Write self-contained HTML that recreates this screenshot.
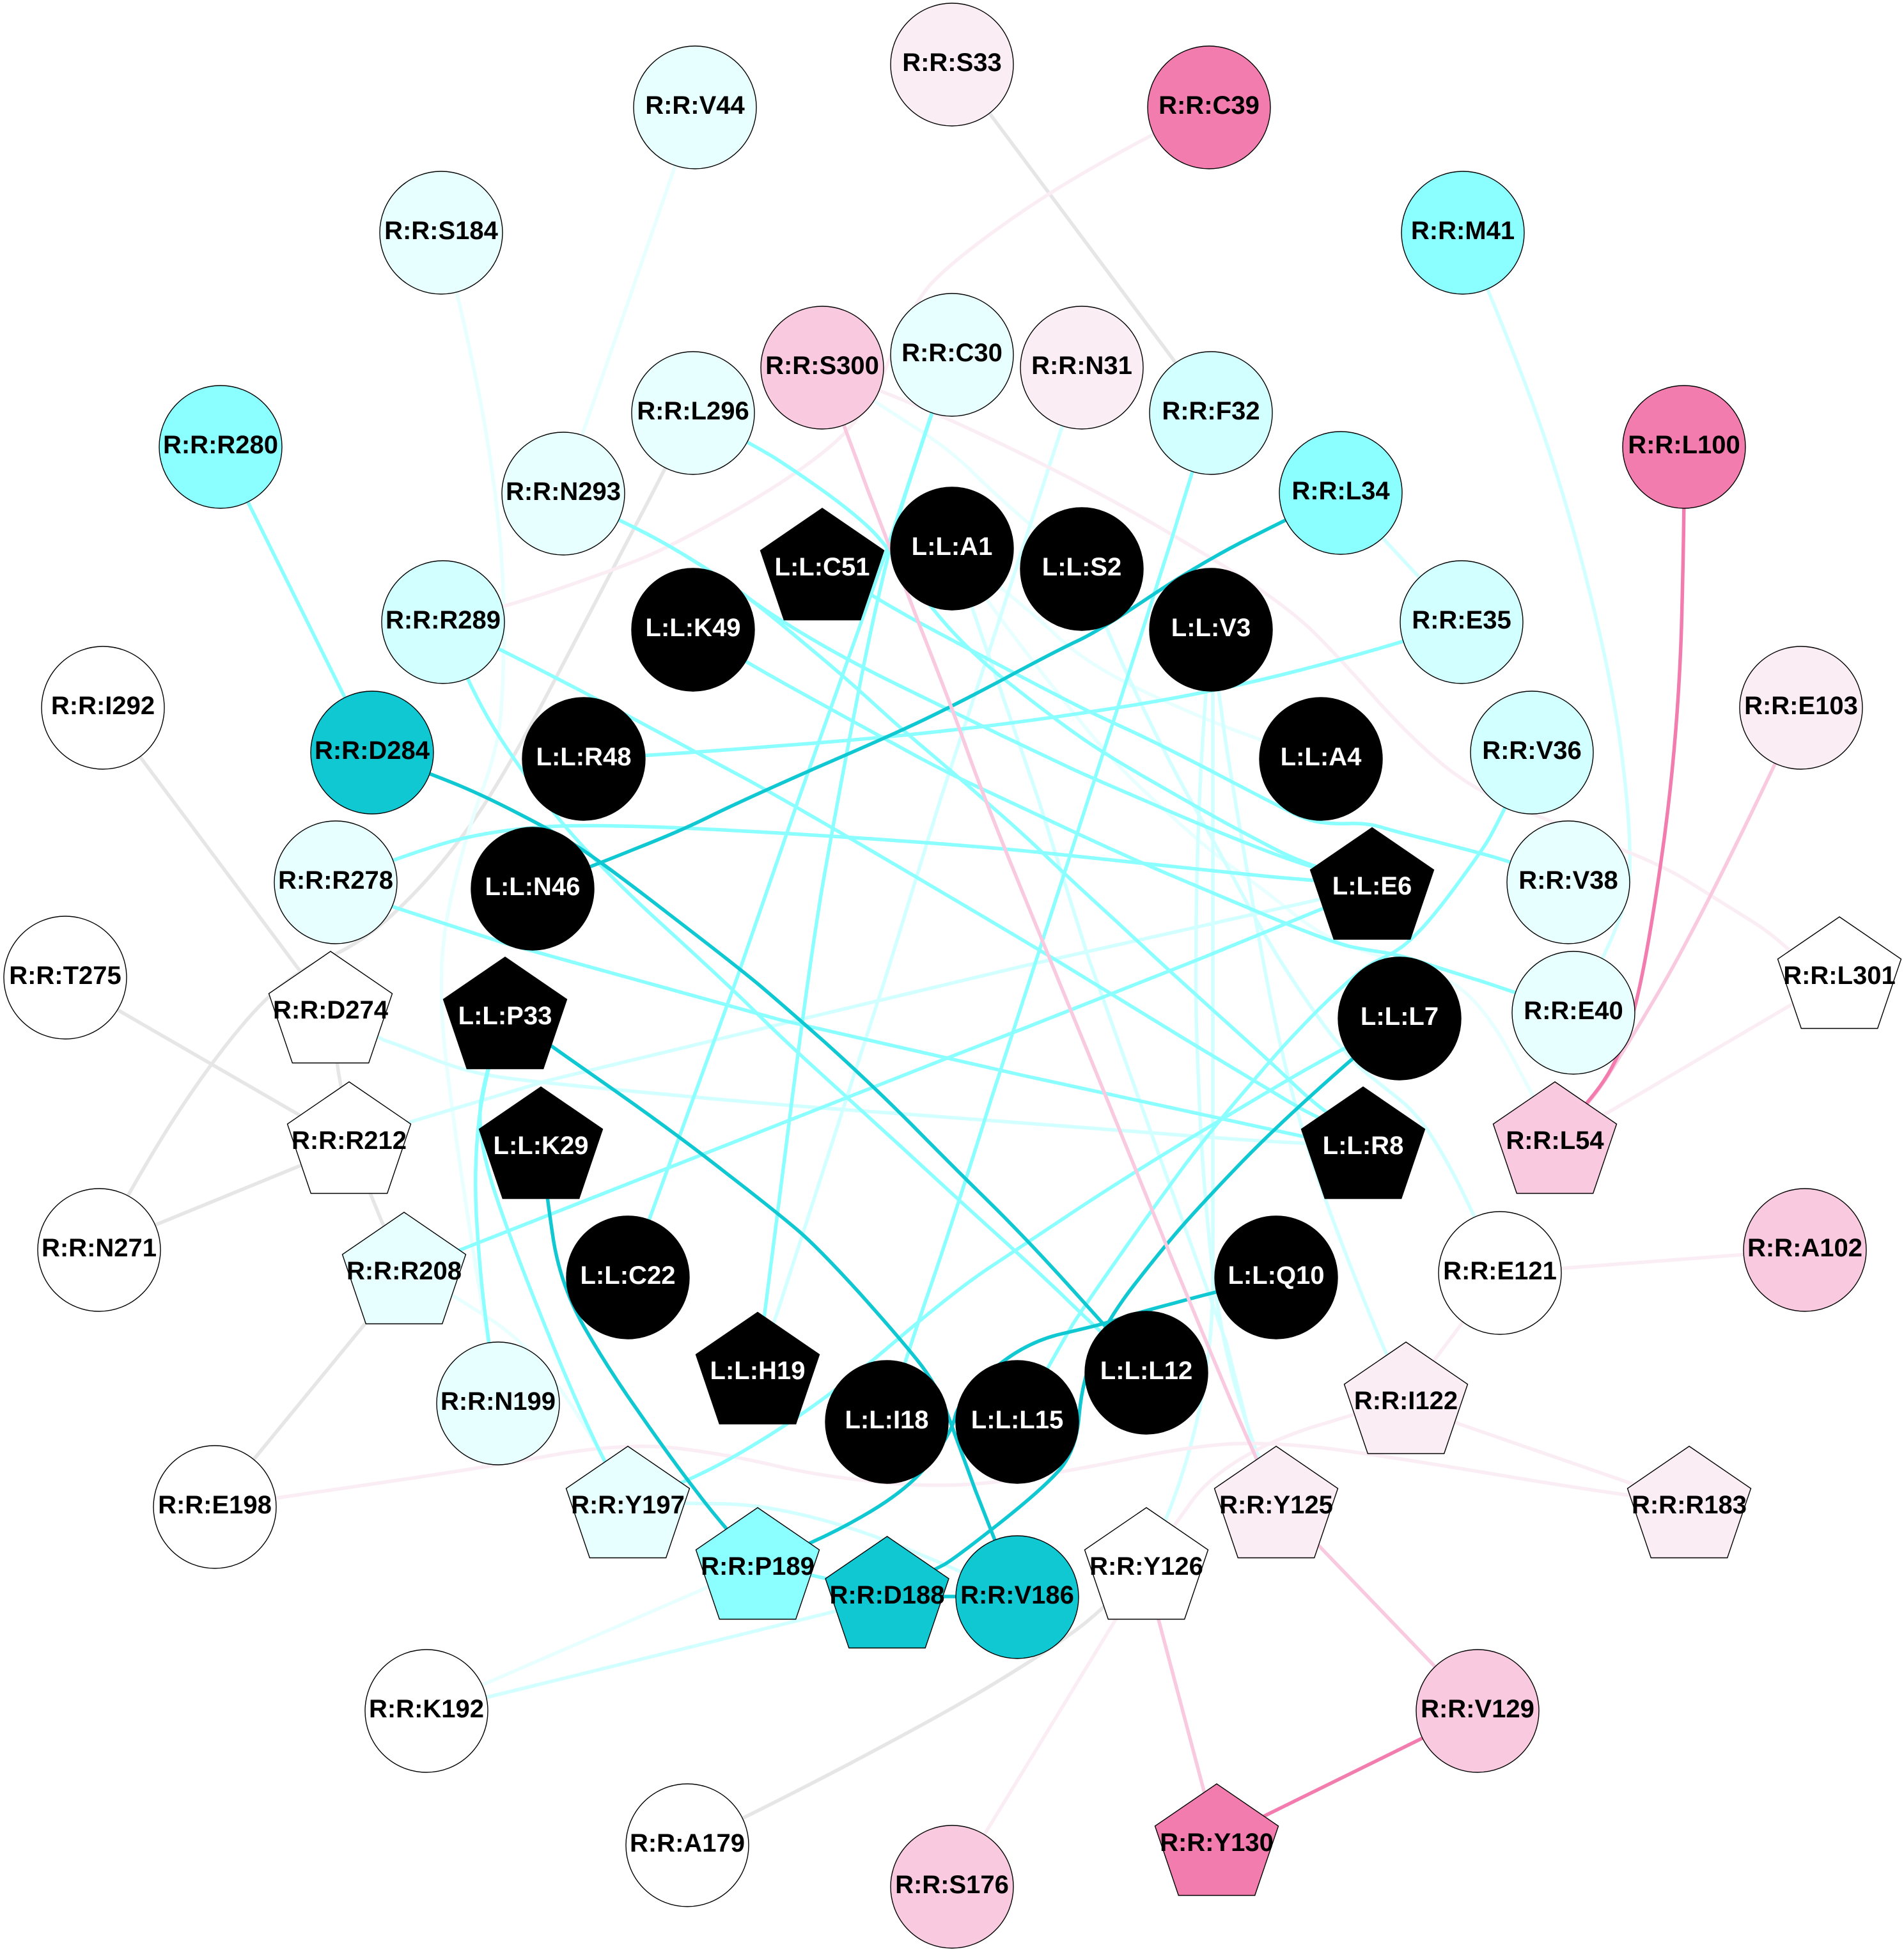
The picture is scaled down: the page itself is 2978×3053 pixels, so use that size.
<!DOCTYPE html>
<html><head><meta charset="utf-8"><style>
html,body{margin:0;padding:0;background:#fff}
svg{display:block}
text{font-family:"Liberation Sans",Arial,sans-serif;font-weight:bold;font-size:40px;text-anchor:middle;fill:#000}
.w{fill:#fff}
polyline,path{fill:none;stroke-width:5.5;stroke-linejoin:round;stroke-linecap:butt}
circle,polygon{stroke:#000;stroke-width:1.4}
</style></head><body>
<svg xmlns="http://www.w3.org/2000/svg" width="2978" height="3053" viewBox="0 0 2978 3053">
<rect width="2978" height="3053" fill="#fff"/>
<g stroke="#E6E6E6">
<polyline points="1489,100 1546,175 1840,569 1894,646"/>
<polyline points="161,1106 220,1185 465,1513 516,1575"/>
<polyline points="102,1529 185,1580 470,1745 546,1778"/>
<polyline points="155,1955 245,1915 470,1823 546,1790"/>
<path d="M155,1955 Q199,1867 263,1764 Q328,1662 387,1594 Q446,1526 508,1500 Q570,1474 627,1418 Q684,1363 736,1290 Q788,1217 869,1061 Q950,905 995,820 Q1040,735 1083,646"/>
<path d="M516,1575 Q527,1662 530,1681 Q534,1701 540,1740 Q546,1778 562,1822 Q579,1867 590,1893 Q600,1920 632,1982"/>
<polyline points="632,1982 572,2069 399,2280 336,2357"/>
<path d="M1075,2885 Q1163,2845 1326,2760 Q1489,2674 1560,2630 Q1631,2587 1678,2553 Q1726,2519 1793,2445"/>
</g>
<g stroke="#E8FFFF">
<polyline points="1087,168 1054,265 912,676 881,772"/>
<path d="M690,364 Q717,462 738,562 Q760,662 774,769 Q788,876 788,973 Q788,1071 783,1120 Q779,1168 755,1234 Q731,1300 712,1376 Q693,1453 691,1510 Q689,1568 694,1625 Q700,1683 715,1791 Q731,1900 747,2000 Q764,2100 779,2195"/>
<path d="M1286,575 Q1402,650 1446,678 Q1490,707 1528,745 Q1567,784 1692,890"/>
<path d="M1489,858 Q1615,958 1646,988 Q1677,1019 1724,1047 Q1772,1076 1871,1118 Q1971,1160 2066,1187"/>
<path d="M1489,858 Q1544,941 1597,1010 Q1650,1079 1697,1137 Q1745,1195 1780,1228 Q1814,1260 1854,1296 Q1895,1333 1930,1358 Q1964,1382 2012,1420 Q2059,1459 2098,1475 Q2136,1490 2202,1508 Q2267,1527 2300,1560 Q2333,1593 2365,1653 Q2397,1713 2432,1778"/>
<polyline points="667,2676 755,2635 1092,2489 1185,2445"/>
<path d="M632,1982 Q712,2027 774,2068 Q836,2110 893,2197 Q950,2285 982,2350"/>
</g>
<g stroke="#D2FFFF">
<polyline points="546,1778 641,1755 857,1690 1220,1602 1600,1511 2063,1407 2146,1382"/>
<path d="M517,1575 Q589,1623 604,1628 Q620,1633 677,1656 Q735,1679 792,1686 Q850,1694 1035,1711 Q1220,1729 1410,1742 Q1600,1756 1818,1773 Q2036,1791 2132,1790"/>
<polyline points="1692,575 1660,671 1546,1022 1471,1250 1386,1526 1216,2052 1185,2140"/>
<polyline points="1489,858 1521,952 1624,1250 1703,1500 1918,2100 1964,2280 1996,2348"/>
<path d="M1692,890 Q1730,984 1774,1078 Q1818,1172 1858,1244 Q1899,1317 1933,1380 Q1967,1444 1999,1497 Q2032,1550 2072,1605 Q2113,1660 2143,1683 Q2173,1707 2193,1723 Q2213,1740 2233,1768 Q2253,1797 2280,1849 Q2306,1901 2346,1991"/>
<path d="M1894,985 Q1906,1084 1917,1160 Q1929,1237 1956,1393 Q1983,1550 2004,1640 Q2025,1730 2048,1802 Q2071,1875 2115,1987 Q2159,2100 2199,2186"/>
<path d="M1894,985 L1897,1088 L1897,2000 Q1897,2230 1793,2445"/>
<path d="M1894,985 Q1885,1088 1878,1210 Q1872,1333 1871,1441 Q1870,1550 1871,1592 Q1872,1634 1877,1749 Q1883,1864 1895,1972 Q1907,2081 1935,2178 Q1964,2275 1996,2348"/>
<path d="M2288,364 Q2329,453 2384,596 Q2439,740 2481,905 Q2524,1071 2538,1192 Q2553,1314 2548,1377 Q2543,1440 2461,1584"/>
<polyline points="2097,771 2285,973"/>
<path d="M982,2350 Q1073,2351 1130,2352 Q1187,2353 1258,2370 Q1330,2387 1410,2419 Q1489,2451 1591,2498"/>
<polyline points="667,2676 760,2655 1311,2519 1387,2490"/>
</g>
<g stroke="#FBEDF4">
<path d="M693,973 Q793,949 871,922 Q950,895 1000,875 Q1050,855 1147,800 Q1245,744 1300,697 Q1356,650 1390,565 Q1424,480 1456,444 Q1489,409 1563,356 Q1638,302 1720,256 Q1802,209 1890,168"/>
<path d="M1286,575 Q1382,613 1435,635 Q1489,657 1584,703 Q1679,749 1774,802 Q1869,856 1945,905 Q2021,954 2063,997 Q2106,1041 2158,1100 Q2211,1158 2258,1197 Q2306,1236 2372,1263 Q2439,1290 2520,1322 Q2600,1353 2638,1377 Q2676,1401 2742,1442 Q2809,1484 2877,1575"/>
<polyline points="2877,1575 2804,1570 2515,1740 2432,1778"/>
<polyline points="2346,1991 2823,1955"/>
<polyline points="2346,1991 2199,2186"/>
<polyline points="2199,2186 2282,2227 2548,2319 2642,2348"/>
<path d="M336,2357 Q432,2343 596,2319 Q760,2295 869,2275 Q978,2256 1059,2265 Q1140,2275 1211,2292 Q1282,2309 1385,2319 Q1489,2329 1584,2314 Q1679,2300 1774,2280 Q1869,2261 1930,2258 Q1992,2256 2073,2265 Q2154,2275 2351,2308 Q2548,2341 2642,2350"/>
<path d="M2199,2186 Q2120,2212 2056,2231 Q1992,2251 1940,2282 Q1888,2314 1864,2348 Q1840,2382 1793,2445"/>
<polyline points="1793,2445 1745,2533 1546,2859 1489,2951"/>
</g>
<g stroke="#8BFFFF">
<polyline points="345,699 582,1177"/>
<path d="M1084,646 Q1170,691 1210,715 Q1249,740 1295,773 Q1341,807 1364,830 Q1387,853 1442,930 Q1498,1006 1574,1065 Q1650,1125 1686,1150 Q1722,1176 1795,1218 Q1868,1260 1906,1281 Q1944,1302 1996,1329 Q2048,1356 2146,1382"/>
<path d="M881,772 Q969,813 1010,834 Q1050,855 1088,879 Q1127,903 1165,931 Q1203,960 1264,996 Q1326,1033 1404,1071 Q1482,1109 1566,1150 Q1650,1190 1680,1204 Q1711,1218 1795,1254 Q1879,1291 1963,1324 Q2048,1358 2146,1382"/>
<path d="M881,772 Q969,813 1010,834 Q1050,855 1088,879 Q1127,903 1165,931 Q1203,960 1260,1008 Q1318,1056 1366,1100 Q1414,1144 1462,1184 Q1509,1224 1554,1264 Q1600,1304 1632,1335 Q1665,1367 1746,1441 Q1826,1516 1904,1586 Q1983,1657 2027,1699 Q2071,1741 2132,1778"/>
<path d="M1286,882 Q1364,933 1431,970 Q1498,1006 1574,1046 Q1650,1086 1678,1100 Q1707,1115 1764,1141 Q1822,1168 1910,1214 Q1998,1260 2021,1271 Q2044,1283 2065,1286 Q2086,1289 2111,1288 Q2136,1287 2158,1293 Q2180,1300 2245,1316 Q2310,1333 2335,1340 Q2360,1347 2453,1380"/>
<path d="M1084,985 Q1169,1037 1234,1073 Q1299,1109 1341,1132 Q1383,1155 1436,1184 Q1490,1213 1545,1238 Q1600,1264 1690,1306 Q1780,1348 1872,1386 Q1964,1425 2025,1450 Q2086,1474 2110,1480 Q2133,1485 2160,1489 Q2187,1493 2224,1505 Q2260,1517 2315,1534 Q2370,1552 2461,1584"/>
<path d="M693,973 Q788,1017 940,1097 Q1092,1178 1159,1214 Q1226,1250 1413,1360 Q1600,1470 1667,1511 Q1734,1552 1858,1628 Q1983,1703 2021,1726 Q2059,1749 2132,1778"/>
<path d="M693,973 Q731,1066 760,1117 Q788,1168 850,1250 Q912,1333 1028,1439 Q1144,1545 1182,1583 Q1220,1621 1275,1671 Q1330,1721 1410,1794 Q1489,1867 1544,1917 Q1600,1967 1660,2024 Q1719,2082 1793,2147"/>
<path d="M525,1380 Q617,1343 688,1321 Q760,1299 855,1293 Q950,1287 1220,1303 Q1489,1319 1634,1334 Q1780,1350 1918,1364 Q2055,1379 2146,1382"/>
<polyline points="525,1380 617,1419 792,1476 1220,1595 1600,1682 2036,1777 2132,1790"/>
<path d="M2286,973 Q2200,1004 2053,1043 Q1906,1082 1753,1106 Q1600,1130 1487,1142 Q1375,1155 1212,1167 Q1050,1180 913,1187"/>
<path d="M1894,646 Q1864,740 1832,845 Q1799,950 1755,1086 Q1711,1222 1662,1374 Q1612,1526 1550,1720 Q1489,1915 1452,2022 Q1415,2129 1387,2224"/>
<polyline points="1489,555 1456,650 1387,860 1249,1250 1154,1526 1016,1906 982,1998"/>
<path d="M1489,555 Q1456,650 1422,755 Q1387,860 1348,1055 Q1310,1250 1286,1388 Q1263,1526 1230,1789 Q1197,2052 1185,2140"/>
<path d="M2396,1177 Q2337,1300 2325,1318 Q2313,1337 2280,1382 Q2247,1427 2224,1452 Q2200,1477 2188,1484 Q2177,1492 2155,1502 Q2133,1513 2100,1543 Q2067,1573 2034,1608 Q2000,1643 1954,1698 Q1906,1753 1854,1821 Q1803,1890 1750,1966 Q1696,2043 1678,2071 Q1661,2100 1591,2224"/>
<path d="M2189,1593 Q2105,1638 2044,1672 Q1983,1707 1882,1768 Q1780,1829 1690,1888 Q1600,1948 1544,1985 Q1489,2022 1386,2110 Q1282,2198 1182,2258 Q1083,2319 982,2350"/>
<polyline points="632,1982 722,1954 1489,1652 1600,1609 1876,1500 2069,1421 2146,1382"/>
<path d="M790,1584 Q760,1672 752,1725 Q745,1779 776,1871 Q807,1964 873,2124 Q940,2285 982,2350"/>
<path d="M790,1584 Q760,1672 750,1745 Q741,1818 745,1900 Q750,1983 757,2041 Q764,2100 779,2195"/>
<polyline points="1185,2445 1387,2490"/>
</g>
<g stroke="#10C8D2">
<path d="M2097,771 Q2011,813 1940,849 Q1869,886 1793,937 Q1717,988 1684,1003 Q1650,1019 1570,1062 Q1489,1105 1436,1130 Q1383,1155 1274,1202 Q1165,1250 1114,1275 Q1064,1300 995,1327 Q926,1355 833,1390"/>
<path d="M582,1177 Q674,1210 717,1228 Q760,1246 812,1273 Q865,1300 903,1324 Q941,1348 1048,1431 Q1156,1514 1188,1541 Q1220,1568 1289,1629 Q1358,1691 1424,1757 Q1489,1823 1544,1877 Q1600,1932 1661,1999 Q1722,2066 1793,2147"/>
<path d="M790,1584 Q863,1637 962,1706 Q1060,1775 1140,1838 Q1220,1900 1251,1927 Q1282,1954 1344,2022 Q1405,2090 1436,2129 Q1467,2168 1482,2212 Q1498,2256 1526,2332 Q1555,2407 1591,2498"/>
<path d="M1996,1998 Q1902,2020 1837,2038 Q1772,2055 1747,2064 Q1722,2072 1661,2086 Q1600,2100 1550,2145 Q1500,2190 1494,2215 Q1489,2240 1456,2284 Q1424,2329 1348,2372 Q1272,2416 1185,2445"/>
<path d="M2189,1593 Q2113,1657 2048,1716 Q1983,1775 1935,1825 Q1887,1875 1854,1912 Q1822,1948 1776,2007 Q1730,2066 1712,2112 Q1693,2158 1688,2212 Q1684,2266 1658,2298 Q1631,2329 1560,2385 Q1489,2441 1475,2448 Q1462,2455 1387,2490"/>
<path d="M846,1786 Q855,1871 866,1942 Q878,2013 914,2076 Q950,2139 998,2207 Q1045,2275 1088,2331 Q1130,2387 1185,2445"/>
<polyline points="1387,2497 1591,2497"/>
</g>
<g stroke="#F9C9DF">
<path d="M2817,1107 Q2776,1197 2726,1299 Q2676,1401 2643,1463 Q2610,1526 2581,1574 Q2552,1623 2519,1676 Q2486,1730 2432,1778"/>
<path d="M1286,575 Q1326,681 1356,763 Q1387,845 1438,977 Q1490,1109 1515,1180 Q1540,1250 1591,1375 Q1642,1500 1709,1664 Q1776,1829 1831,1964 Q1887,2100 1925,2190 Q1964,2280 1996,2348"/>
<polyline points="1996,2348 2311,2676"/>
<polyline points="1793,2445 1812,2533 1883,2801 1903,2877"/>
</g>
<g stroke="#F27CAE">
<path d="M2634,699 Q2635,793 2630,980 Q2624,1168 2598,1347 Q2572,1526 2553,1589 Q2534,1652 2510,1688 Q2486,1725 2432,1778"/>
<polyline points="2311,2676 1903,2877"/>
</g>

<circle cx="1489" cy="101" r="96" fill="#FBEDF4"/><text x="1489" y="111">R:R:S33</text>
<circle cx="1087" cy="168" r="96" fill="#E8FFFF"/><text x="1087" y="178">R:R:V44</text>
<circle cx="1891" cy="168" r="96" fill="#F27CAE"/><text x="1891" y="178">R:R:C39</text>
<circle cx="690" cy="364" r="96" fill="#E8FFFF"/><text x="690" y="374">R:R:S184</text>
<circle cx="2288" cy="364" r="96" fill="#8BFFFF"/><text x="2288" y="374">R:R:M41</text>
<circle cx="345" cy="699" r="96" fill="#8BFFFF"/><text x="345" y="709">R:R:R280</text>
<circle cx="2634" cy="699" r="96" fill="#F27CAE"/><text x="2634" y="709">R:R:L100</text>
<circle cx="881" cy="772" r="96" fill="#E8FFFF"/><text x="881" y="782">R:R:N293</text>
<circle cx="2097" cy="771" r="96" fill="#8BFFFF"/><text x="2097" y="781">R:R:L34</text>
<circle cx="1084" cy="646" r="96" fill="#E8FFFF"/><text x="1084" y="656">R:R:L296</text>
<circle cx="1894" cy="646" r="96" fill="#D2FFFF"/><text x="1894" y="656">R:R:F32</text>
<circle cx="1286" cy="575" r="96" fill="#F9C9DF"/><text x="1286" y="585">R:R:S300</text>
<circle cx="1692" cy="575" r="96" fill="#FBEDF4"/><text x="1692" y="585">R:R:N31</text>
<circle cx="1489" cy="555" r="96" fill="#E8FFFF"/><text x="1489" y="565">R:R:C30</text>
<circle cx="693" cy="973" r="96" fill="#D2FFFF"/><text x="693" y="983">R:R:R289</text>
<circle cx="2286" cy="973" r="96" fill="#D2FFFF"/><text x="2286" y="983">R:R:E35</text>
<circle cx="161" cy="1107" r="96" fill="#fff"/><text x="161" y="1117">R:R:I292</text>
<circle cx="2817" cy="1107" r="96" fill="#FBEDF4"/><text x="2817" y="1117">R:R:E103</text>
<circle cx="582" cy="1177" r="96" fill="#10C8D2"/><text x="582" y="1187">R:R:D284</text>
<circle cx="2396" cy="1177" r="96" fill="#D2FFFF"/><text x="2396" y="1187">R:R:V36</text>
<circle cx="525" cy="1380" r="96" fill="#E8FFFF"/><text x="525" y="1390">R:R:R278</text>
<circle cx="2453" cy="1380" r="96" fill="#E8FFFF"/><text x="2453" y="1390">R:R:V38</text>
<circle cx="102" cy="1529" r="96" fill="#fff"/><text x="102" y="1539">R:R:T275</text>
<circle cx="2461" cy="1584" r="96" fill="#E8FFFF"/><text x="2461" y="1594">R:R:E40</text>
<circle cx="155" cy="1955" r="96" fill="#fff"/><text x="155" y="1965">R:R:N271</text>
<circle cx="2823" cy="1955" r="96" fill="#F9C9DF"/><text x="2823" y="1965">R:R:A102</text>
<circle cx="2346" cy="1991" r="96" fill="#fff"/><text x="2346" y="2001">R:R:E121</text>
<circle cx="779" cy="2195" r="96" fill="#E8FFFF"/><text x="779" y="2205">R:R:N199</text>
<circle cx="336" cy="2357" r="96" fill="#fff"/><text x="336" y="2367">R:R:E198</text>
<circle cx="667" cy="2676" r="96" fill="#fff"/><text x="667" y="2686">R:R:K192</text>
<circle cx="2311" cy="2676" r="96" fill="#F9C9DF"/><text x="2311" y="2686">R:R:V129</text>
<circle cx="1075" cy="2886" r="96" fill="#fff"/><text x="1075" y="2896">R:R:A179</text>
<circle cx="1489" cy="2951" r="96" fill="#F9C9DF"/><text x="1489" y="2961">R:R:S176</text>
<circle cx="1591" cy="2498" r="96" fill="#10C8D2"/><text x="1591" y="2508">R:R:V186</text>

<circle cx="1489" cy="858" r="96" fill="#000"/><text class="w" x="1489" y="868">L:L:A1</text>
<circle cx="1692" cy="890" r="96" fill="#000"/><text class="w" x="1692" y="900">L:L:S2</text>
<circle cx="1084" cy="985" r="96" fill="#000"/><text class="w" x="1084" y="995">L:L:K49</text>
<circle cx="1894" cy="985" r="96" fill="#000"/><text class="w" x="1894" y="995">L:L:V3</text>
<circle cx="913" cy="1187" r="96" fill="#000"/><text class="w" x="913" y="1197">L:L:R48</text>
<circle cx="2066" cy="1187" r="96" fill="#000"/><text class="w" x="2066" y="1197">L:L:A4</text>
<circle cx="833" cy="1390" r="96" fill="#000"/><text class="w" x="833" y="1400">L:L:N46</text>
<circle cx="2189" cy="1593" r="96" fill="#000"/><text class="w" x="2189" y="1603">L:L:L7</text>
<circle cx="982" cy="1998" r="96" fill="#000"/><text class="w" x="982" y="2008">L:L:C22</text>
<circle cx="1996" cy="1998" r="96" fill="#000"/><text class="w" x="1996" y="2008">L:L:Q10</text>
<circle cx="1793" cy="2147" r="96" fill="#000"/><text class="w" x="1793" y="2157">L:L:L12</text>
<circle cx="1387" cy="2224" r="96" fill="#000"/><text class="w" x="1387" y="2234">L:L:I18</text>
<circle cx="1591" cy="2224" r="96" fill="#000"/><text class="w" x="1591" y="2234">L:L:L15</text>

<polygon transform="translate(1286,795)" points="0,0 96.5,66 59.7,174.5 -59.7,174.5 -96.5,66" fill="#000"/><text class="w" x="1286" y="900">L:L:C51</text>
<polygon transform="translate(2146,1294.5)" points="0,0 96.5,66 59.7,174.5 -59.7,174.5 -96.5,66" fill="#000"/><text class="w" x="2146" y="1399">L:L:E6</text>
<polygon transform="translate(790,1497)" points="0,0 96.5,66 59.7,174.5 -59.7,174.5 -96.5,66" fill="#000"/><text class="w" x="790" y="1602">L:L:P33</text>
<polygon transform="translate(846,1700)" points="0,0 96.5,66 59.7,174.5 -59.7,174.5 -96.5,66" fill="#000"/><text class="w" x="846" y="1805">L:L:K29</text>
<polygon transform="translate(2132,1700)" points="0,0 96.5,66 59.7,174.5 -59.7,174.5 -96.5,66" fill="#000"/><text class="w" x="2132" y="1805">L:L:R8</text>
<polygon transform="translate(1185,2052.5)" points="0,0 96.5,66 59.7,174.5 -59.7,174.5 -96.5,66" fill="#000"/><text class="w" x="1185" y="2157">L:L:H19</text>

<polygon transform="translate(2877,1434)" points="0,0 96.5,66 59.7,174.5 -59.7,174.5 -96.5,66" fill="#fff"/><text x="2877" y="1539">R:R:L301</text>
<polygon transform="translate(517,1488)" points="0,0 96.5,66 59.7,174.5 -59.7,174.5 -96.5,66" fill="#fff"/><text x="517" y="1593">R:R:D274</text>
<polygon transform="translate(546,1692)" points="0,0 96.5,66 59.7,174.5 -59.7,174.5 -96.5,66" fill="#fff"/><text x="546" y="1797">R:R:R212</text>
<polygon transform="translate(2432,1692)" points="0,0 96.5,66 59.7,174.5 -59.7,174.5 -96.5,66" fill="#F9C9DF"/><text x="2432" y="1797">R:R:L54</text>
<polygon transform="translate(632,1896)" points="0,0 96.5,66 59.7,174.5 -59.7,174.5 -96.5,66" fill="#E8FFFF"/><text x="632" y="2001">R:R:R208</text>
<polygon transform="translate(2199,2099)" points="0,0 96.5,66 59.7,174.5 -59.7,174.5 -96.5,66" fill="#FBEDF4"/><text x="2199" y="2204">R:R:I122</text>
<polygon transform="translate(982,2262)" points="0,0 96.5,66 59.7,174.5 -59.7,174.5 -96.5,66" fill="#E8FFFF"/><text x="982" y="2367">R:R:Y197</text>
<polygon transform="translate(1996,2262)" points="0,0 96.5,66 59.7,174.5 -59.7,174.5 -96.5,66" fill="#FBEDF4"/><text x="1996" y="2367">R:R:Y125</text>
<polygon transform="translate(2642,2262)" points="0,0 96.5,66 59.7,174.5 -59.7,174.5 -96.5,66" fill="#FBEDF4"/><text x="2642" y="2367">R:R:R183</text>
<polygon transform="translate(1185,2358)" points="0,0 96.5,66 59.7,174.5 -59.7,174.5 -96.5,66" fill="#8BFFFF"/><text x="1185" y="2463">R:R:P189</text>
<polygon transform="translate(1793,2358)" points="0,0 96.5,66 59.7,174.5 -59.7,174.5 -96.5,66" fill="#fff"/><text x="1793" y="2463">R:R:Y126</text>
<polygon transform="translate(1387.5,2403)" points="0,0 96.5,66 59.7,174.5 -59.7,174.5 -96.5,66" fill="#10C8D2"/><text x="1387.5" y="2508">R:R:D188</text>
<polygon transform="translate(1903,2790)" points="0,0 96.5,66 59.7,174.5 -59.7,174.5 -96.5,66" fill="#F27CAE"/><text x="1903" y="2895">R:R:Y130</text>
</svg>
</body></html>
